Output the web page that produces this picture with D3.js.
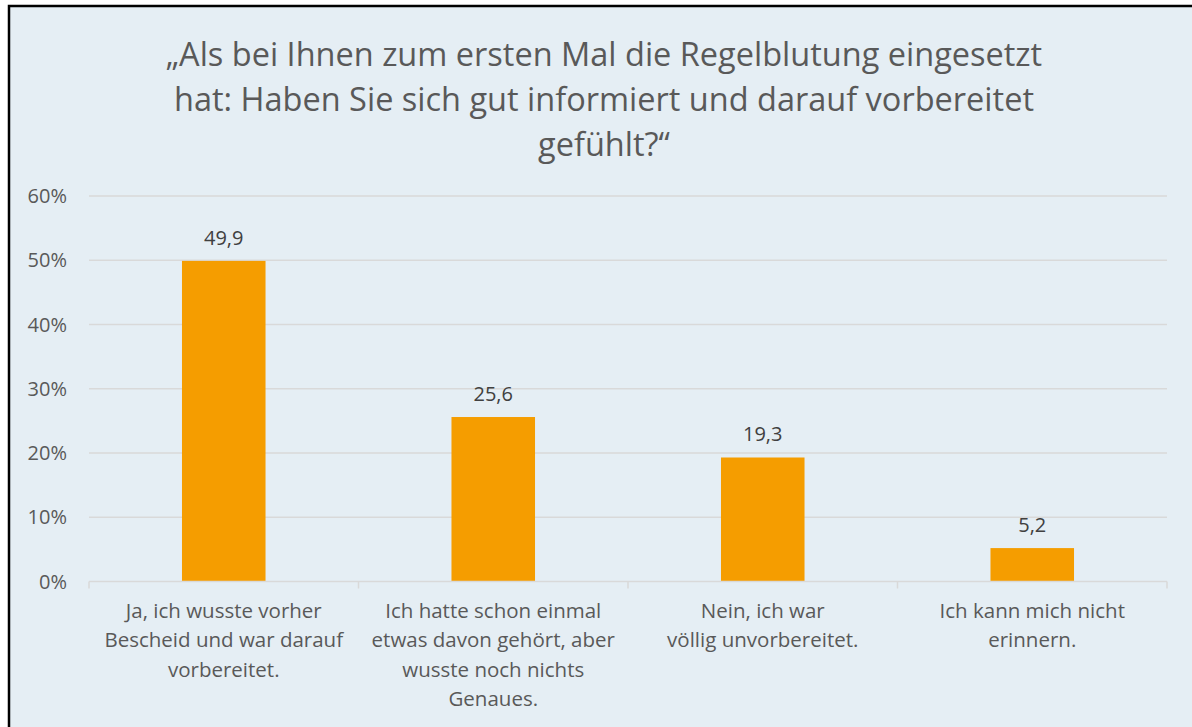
<!DOCTYPE html>
<html>
<head>
<meta charset="utf-8">
<script src="https://cdn.jsdelivr.net/npm/d3@7"></script>
<style>
  body { margin: 0; background: #fff; }
  text { font-family: "Open Sans", sans-serif; }
</style>
</head>
<body>
<script>
var titleLines = ["„Als bei Ihnen zum ersten Mal die Regelblutung eingesetzt",
                  "hat: Haben Sie sich gut informiert und darauf vorbereitet",
                  "gefühlt?“"];
var categories = ["ja", "etwas", "nein", "weiss"];
var categoryLines = [
  ["Ja, ich wusste vorher", "Bescheid und war darauf", "vorbereitet."],
  ["Ich hatte schon einmal", "etwas davon gehört, aber", "wusste noch nichts", "Genaues."],
  ["Nein, ich war", "völlig unvorbereitet."],
  ["Ich kann mich nicht", "erinnern."]
];
var values = [49.9, 25.6, 19.3, 5.2];
var yTicks = [0, 10, 20, 30, 40, 50, 60];

var W = 1192, H = 727;
var margin = {top: 196, right: 25, bottom: 146, left: 89};
var width = 1167 - margin.left,
    height = 581.5 - margin.top;

var svg = d3.select("body").append("svg")
  .attr("width", W)
  .attr("height", H);

svg.append("rect")
  .attr("x", 9).attr("y", 6)
  .attr("width", W + 10).attr("height", H + 10)
  .attr("fill", "#E5EEF4")
  .attr("stroke", "#000")
  .attr("stroke-width", 2.5);

svg.append("g")
  .selectAll("text")
  .data(titleLines)
  .enter()
  .append("text")
  .attr("x", 604)
  .attr("y", function(d, i) { return 66 + i * 45; })
  .attr("text-anchor", "middle")
  .attr("fill", "#595959")
  .style("font-size", "32.5px")
  .text(function(d) { return d; });

var g = svg.append("g")
  .attr("transform", "translate(" + margin.left + "," + margin.top + ")");

var x = d3.scaleBand().domain(categories).range([0, width]).paddingInner(0.69).paddingOuter(0.345);
var xb = d3.scaleBand().domain(categories).range([0, width]);
var y = d3.scaleLinear().domain([0, 60]).range([height, 0]);

// gridlines
g.append("g")
  .selectAll("line")
  .data(yTicks.slice(1))
  .enter()
  .append("line")
  .attr("x1", 0).attr("x2", width)
  .attr("y1", function(d) { return y(d); })
  .attr("y2", function(d) { return y(d); })
  .attr("stroke", "#D9D9D9")
  .attr("stroke-width", 1.3);

// y axis labels
g.append("g")
  .selectAll("text")
  .data(yTicks)
  .enter()
  .append("text")
  .attr("x", -22)
  .attr("y", function(d) { return y(d); })
  .attr("dy", "0.35em")
  .attr("text-anchor", "end")
  .attr("fill", "#595959")
  .style("font-size", "20px")
  .text(function(d) { return d + "%"; });

// bars
g.append("g")
  .selectAll("rect")
  .data(values)
  .enter()
  .append("rect")
  .attr("x", function(d, i) { return x(categories[i]); })
  .attr("y", function(d) { return y(d); })
  .attr("width", x.bandwidth())
  .attr("height", function(d) { return height - y(d); })
  .attr("fill", "#F59D00");

// value labels
g.append("g")
  .selectAll("text")
  .data(values)
  .enter()
  .append("text")
  .attr("x", function(d, i) { return x(categories[i]) + x.bandwidth() / 2; })
  .attr("y", function(d) { return y(d) - 16; })
  .attr("text-anchor", "middle")
  .attr("fill", "#404040")
  .style("font-size", "20px")
  .text(function(d) { return d3.format(".1f")(d).replace(".", ","); });

// x axis line + ticks
var axis = g.append("g").attr("transform", "translate(0," + height + ")");
axis.append("line")
  .attr("x1", 0).attr("x2", width)
  .attr("stroke", "#D9D9D9").attr("stroke-width", 1.5);
axis.selectAll("line.tick")
  .data(categories.concat(["end"]))
  .enter()
  .append("line")
  .attr("class", "tick")
  .attr("x1", function(d, i) { return i * xb.step(); })
  .attr("x2", function(d, i) { return i * xb.step(); })
  .attr("y1", 0).attr("y2", 7)
  .attr("stroke", "#D9D9D9").attr("stroke-width", 1.5);

// category labels
var cl = axis.selectAll("text.cat")
  .data(categoryLines)
  .enter()
  .append("text")
  .attr("class", "cat")
  .attr("text-anchor", "middle")
  .attr("fill", "#595959")
  .style("font-size", "20.5px");
cl.selectAll("tspan")
  .data(function(d, i) { return d.map(function(t) { return {t: t, i: i}; }); })
  .enter()
  .append("tspan")
  .attr("x", function(d) { return xb(categories[d.i]) + xb.bandwidth() / 2; })
  .attr("y", function(d, j) { return 36 + j * 29.5; })
  .text(function(d) { return d.t; });
</script>
</body>
</html>
